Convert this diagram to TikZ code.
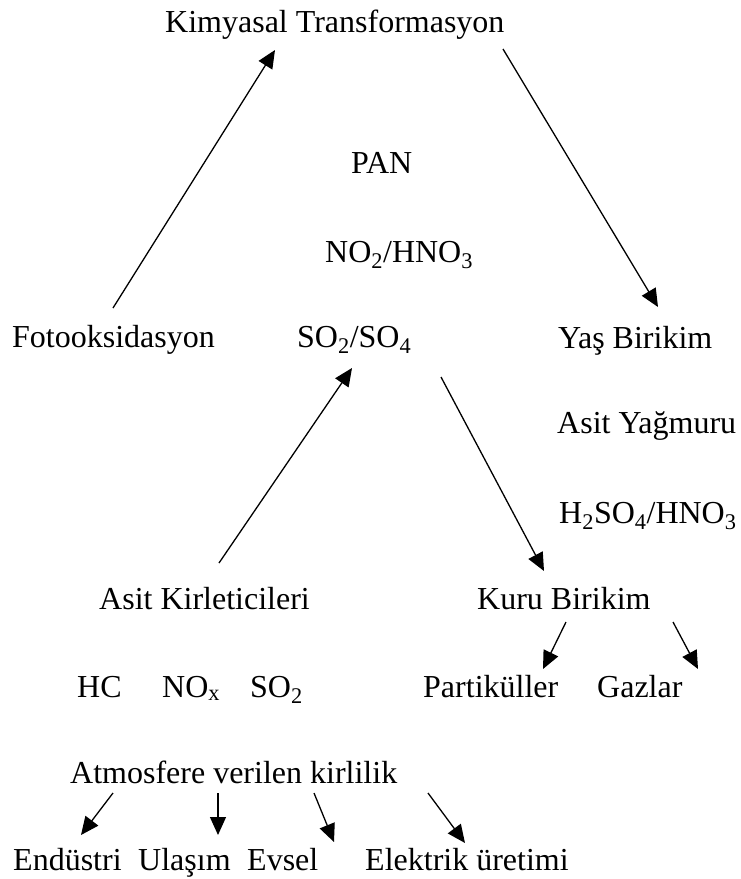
\documentclass[tikz,border=0pt]{standalone}
\usepackage{fontspec}
\setmainfont{Liberation Serif}
\usepackage{tikz}
\usetikzlibrary{arrows.meta, calc}
\tikzset{
  arr/.style={-{Triangle[length=18pt, width=16pt]}, line width=1.3pt, black},
  lbl/.style={anchor=base west, inner sep=0pt, text=black},
}

\begin{document}
\begin{tikzpicture}[x=1pt, y=-1pt, font=\fontsize{32}{38}\selectfont]
  \useasboundingbox (0,0) rectangle (741,879);

  % Top cycle
  \node[lbl] (kim) at (165,32) {Kimyasal Transformasyon};
  \node[lbl] (pan) at (351,173) {PAN};
  \node[lbl] (no) at (325,262) {NO\textsubscript{2}/HNO\textsubscript{3}};
  \node[lbl] (foto) at (12,347) {Fotooksidasyon};
  \node[lbl] (so) at (297,347) {SO\textsubscript{2}/SO\textsubscript{4}};
  \node[lbl] (yas) at (558,348) {Yaş Birikim};
  \node[lbl] (yag) at (557,433) {Asit Yağmuru};
  \node[lbl] (hso) at (559,523) {H\textsubscript{2}SO\textsubscript{4}/HNO\textsubscript{3}};

  % Sources and deposition
  \node[lbl] (ak) at (99,609) {Asit Kirleticileri};
  \node[lbl] (kuru) at (477,609) {Kuru Birikim};
  \node[lbl] (hc) at (77,697) {HC};
  \node[lbl] (nox) at (162,697) {NO\textsubscript{x}};
  \node[lbl] (so2) at (250,697) {SO\textsubscript{2}};
  \node[lbl] (part) at (423,697) {Partiküller};
  \node[lbl] (gaz) at (597,697) {Gazlar};

  % Emissions
  \node[lbl] (atm) at (70,783) {Atmosfere verilen kirlilik};
  \node[lbl] (end) at (13,870) {Endüstri};
  \node[lbl] (ula) at (138,870) {Ulaşım};
  \node[lbl] (evs) at (247,870) {Evsel};
  \node[lbl] (elk) at (365,870) {Elektrik üretimi};

  \draw[arr] ($(foto.base west)+(101,-39)$) -- ($(kim.base west)+(110,18)$);
  \draw[arr] ($(kim.base west)+(338,17)$) -- ($(yas.base west)+(100,-41)$);
  \draw[arr] ($(ak.base west)+(120,-46)$) -- ($(so.base west)+(55,21)$);
  \draw[arr] ($(so.base west)+(144,30)$) -- ($(kuru.base west)+(67,-38)$);
  \draw[arr] ($(kuru.base west)+(89,13)$) -- ($(part.base west)+(120,-28)$);
  \draw[arr] ($(kuru.base west)+(196,13)$) -- ($(gaz.base west)+(101,-28)$);

  \draw[arr] ($(atm.base west)+(43,10)$) -- ($(end.base west)+(68,-35)$);
  \draw[arr] ($(atm.base west)+(148,10)$) -- ($(ula.base west)+(80,-35)$);
  \draw[arr] ($(atm.base west)+(244,10)$) -- ($(evs.base west)+(87,-28)$);
  \draw[arr] ($(atm.base west)+(358,10)$) -- ($(elk.base west)+(100,-27)$);
\end{tikzpicture}
\end{document}
